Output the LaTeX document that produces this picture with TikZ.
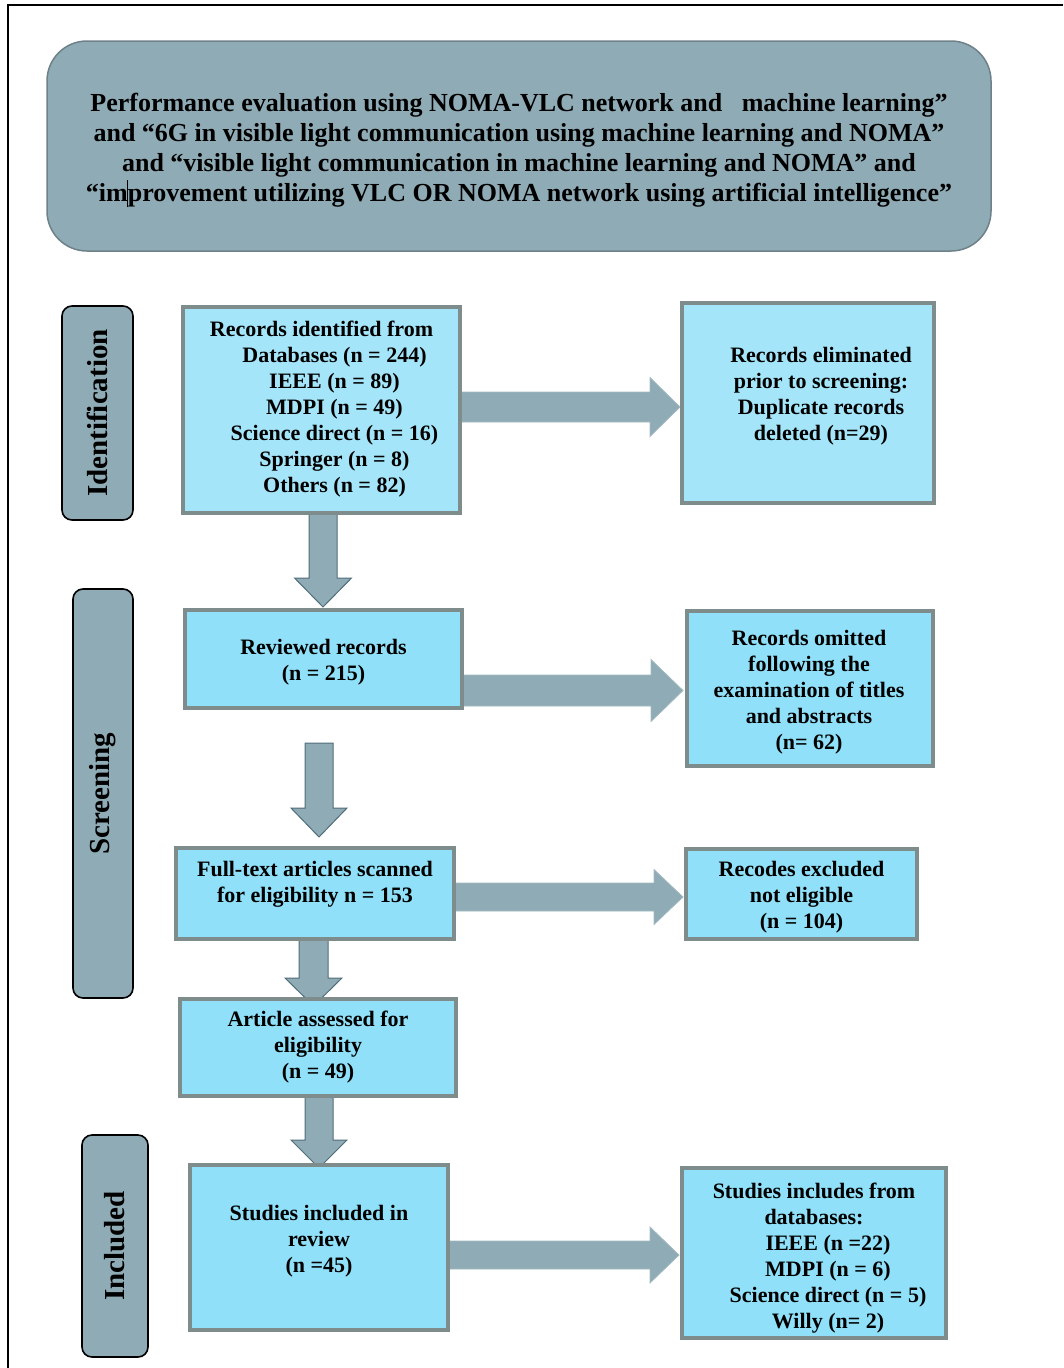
\documentclass[tikz,border=0pt]{standalone}
\usepackage{fontspec}
\setmainfont{Liberation Serif}
\usetikzlibrary{calc,backgrounds}
\definecolor{slate}{HTML}{8FABB5}
\definecolor{slateedge}{HTML}{6F8188}
\definecolor{arrowedge}{HTML}{4F6D7A}
\definecolor{arrowedgelight}{HTML}{A3BAC2}
\definecolor{boxedge}{HTML}{7F8C8C}
\definecolor{lightcyan}{HTML}{A5E5F9}
\definecolor{cyanfill}{HTML}{8FE0F8}
\tikzset{
  box/.style={draw=boxedge, line width=4pt, fill=cyanfill, inner sep=0pt, outer sep=0pt},
  lightbox/.style={box, fill=lightcyan},
  boxtext/.style={align=center, font=\bfseries\fontsize{22}{26}\selectfont, inner sep=0pt},
  header/.style={draw=slateedge, line width=1.5pt, fill=slate, rounded corners=40pt, inner sep=0pt},
  headertext/.style={align=center, font=\bfseries\fontsize{26}{30}\selectfont, inner sep=0pt},
  phase/.style={draw=black, line width=1.6pt, fill=slate, rounded corners=10pt, rotate=90,
    font=\bfseries\fontsize{29}{33}\selectfont, inner sep=0pt},
  downarrow/.style={fill=slate, draw=arrowedge, line width=1pt},
  rightarrow/.style={fill=slate, draw=arrowedgelight, line width=0.8pt},
  frameline/.style={draw=black, line width=2pt}
}
\newcommand\blockR[6]{%
  \draw[#1] let \p1=(#2), \p2=(#3) in
   (\x1,\y2+#4) -- (\x2-#6,\y2+#4) -- (\x2-#6,\y2+#5) -- (\x2,\y2) --
   (\x2-#6,\y2-#5) -- (\x2-#6,\y2-#4) -- (\x1,\y2-#4) -- cycle;}
\newcommand\blockD[6]{%
  \draw[#1] let \p1=(#2), \p2=(#3) in
   (\x2-#4,\y1) -- (\x2-#4,\y2+#6) -- (\x2-#5,\y2+#6) -- (\x2,\y2) --
   (\x2+#5,\y2+#6) -- (\x2+#4,\y2+#6) -- (\x2+#4,\y1) -- cycle;}
\begin{document}
\begin{tikzpicture}[x=1pt,y=-1pt]
\useasboundingbox (0,0) rectangle (1063,1368);
\coordinate (fA) at (8,1368);
\coordinate (fB) at (8,5);
\coordinate (fC) at (1063,5);
\draw[frameline] (fA) -- (fB) -- (fC);

% header
\node[header, minimum width=944pt, minimum height=210pt] (head) at (519,146) {};
\node[headertext] (headtext) at (519,150)
 {Performance evaluation using NOMA-VLC network and~~~machine learning”\\
  and “6G in visible light communication using machine learning and NOMA”\\
  and “visible light communication in machine learning and NOMA” and\\
  “im\makebox[0pt]{\rule[-6pt]{1.2pt}{27pt}}provement utilizing VLC OR NOMA network using artificial intelligence”};

% phase labels
\node[phase, minimum width=214pt, minimum height=71pt] (ph1) at (97.5,413) {Identification};
\node[phase, minimum width=409pt, minimum height=60pt] (ph2) at (103,793.5) {Screening};
\node[phase, minimum width=222pt, minimum height=66pt] (ph3) at (115,1246) {Included};

% boxes
\node[lightbox, minimum width=277pt, minimum height=206pt] (b1) at (321.5,410) {};
\node[boxtext] (t1) at (321.5,409.5) {Records identified from\\
  \hspace*{26pt}Databases (n = 244)\\
  \hspace*{26pt}IEEE (n = 89)\\
  \hspace*{26pt}MDPI (n = 49)\\
  \hspace*{26pt}Science direct (n = 16)\\
  \hspace*{26pt}Springer (n = 8)\\
  \hspace*{26pt}Others (n = 82)};

\node[lightbox, minimum width=252pt, minimum height=200pt] (b2) at (808,403) {};
\node[boxtext] (t2) at (821,396) {Records eliminated\\prior to screening:\\Duplicate records\\deleted (n=29)};

\node[box, minimum width=277pt, minimum height=98pt] (b3) at (323.5,659) {};
\node[boxtext] (t3) at (323.5,662) {Reviewed records\\(n = 215)};

\node[box, minimum width=246pt, minimum height=155pt] (b4) at (810,688.5) {};
\node[boxtext] (t4) at (809,692.5) {Records omitted\\following the\\examination of titles\\and abstracts\\(n= 62)};

\node[box, minimum width=278pt, minimum height=91pt] (b5) at (315,893.5) {};
\node[boxtext] (t5) at (315,884) {Full-text articles scanned\\for eligibility n = 153};

\node[box, minimum width=231pt, minimum height=90pt] (b6) at (801.5,894) {};
\node[boxtext] (t6) at (801.5,897) {Recodes excluded\\not eligible\\(n = 104)};

\node[box, minimum width=276pt, minimum height=97pt] (b7) at (318,1047.5) {};
\node[boxtext] (t7) at (318,1047.5) {Article assessed for\\eligibility\\(n = 49)};

\node[box, minimum width=258pt, minimum height=165pt] (b8) at (319,1247.5) {};
\node[boxtext] (t8) at (319,1241) {Studies included in\\review\\(n =45)};

\node[box, minimum width=264pt, minimum height=170pt] (b9) at (814,1253) {};
\node[boxtext] (t9) at (814,1258) {Studies includes from\\databases:\\
  \hspace*{28pt}IEEE (n =22)\\
  \hspace*{28pt}MDPI (n = 6)\\
  \hspace*{28pt}Science direct (n = 5)\\
  \hspace*{28pt}Willy (n= 2)};

% arrow tips and free ends
\coordinate (r1) at (680,407);
\coordinate (r2) at (683,690.5);
\coordinate (r3) at (683,897);
\coordinate (r4) at (679,1255);
\coordinate (d1) at (323,607);
\coordinate (d2s) at (319,743);
\coordinate (d2) at (319,837);
\coordinate (d3) at (313.5,1006);
\coordinate (d4) at (319,1168);

\begin{scope}[on background layer]
\blockR{rightarrow}{b1.east}{r1}{15pt}{29.5pt}{30pt}
\blockR{rightarrow}{b3.east}{r2}{15.5pt}{31pt}{32pt}
\blockR{rightarrow}{b5.east}{r3}{14pt}{27.5pt}{29pt}
\blockR{rightarrow}{b8.east}{r4}{14pt}{28pt}{29pt}
\blockD{downarrow}{b1.south}{d1}{14pt}{28.5pt}{29pt}
\blockD{downarrow}{d2s}{d2}{14pt}{28pt}{29pt}
\blockD{downarrow}{b5.south}{d3}{14.5pt}{28.5pt}{28pt}
\blockD{downarrow}{b7.south}{d4}{14pt}{28pt}{28pt}
\end{scope}
\end{tikzpicture}
\end{document}
